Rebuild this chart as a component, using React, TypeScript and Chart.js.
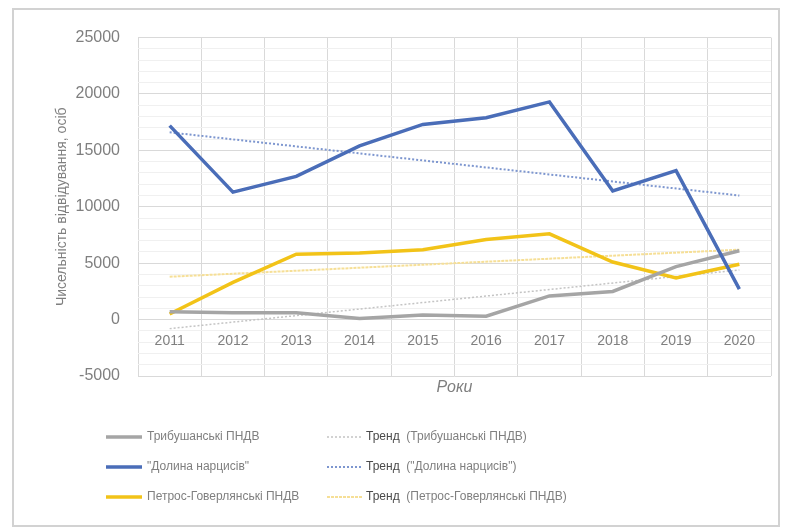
import React, { useEffect, useRef } from "react";
import { Chart, registerables } from "chart.js";

Chart.register(...registerables);

// Categories (years)
const years = ["2011", "2012", "2013", "2014", "2015", "2016", "2017", "2018", "2019", "2020"];

// Visitor counts per park
const trybushany = [700, 600, 600, 100, 400, 300, 2100, 2500, 4700, 6100];
const dolyna = [17200, 11300, 12700, 15400, 17300, 17900, 19300, 11400, 13200, 2700];
const petros = [500, 3300, 5800, 5900, 6200, 7100, 7600, 5100, 3700, 4900];

// Linear trend lines: value at first and last year
const trendTrybushany = [-800, 4400];
const trendDolyna = [16600, 11000];
const trendPetros = [3800, 6200];

// Y axis range and ticks
const yMin = -5000;
const yMax = 25000;
const yMajorStep = 5000;
const yMinorStep = 1000;

const seriesNames = ["Трибушанські ПНДВ", "\"Долина нарцисів\"", "Петрос-Говерлянські ПНДВ"];
const trendWord = "Тренд";
const xTitle = "Роки";
const yTitle = "Чисельність відвідування, осіб";

const FONT = "'Liberation Sans', Arial, sans-serif";
const TEXT = "#7f7f7f";

const trendSeries = (pair: number[]) =>
  years.map((_, i) => (i === 0 ? pair[0] : i === years.length - 1 ? pair[1] : null));

// Two-column legend: main series on the left, their trends on the right
const gridLegend = {
  id: "gridLegend",
  afterDraw(chart: any) {
    const ctx = chart.ctx as CanvasRenderingContext2D;
    const ds = chart.data.datasets;
    const rows = [427, 457, 487];
    ctx.save();
    ctx.font = `12px ${FONT}`;
    ctx.textBaseline = "middle";
    for (let r = 0; r < 3; r++) {
      const y = rows[r];
      // main series
      const m = ds[r];
      ctx.setLineDash([]);
      ctx.strokeStyle = m.borderColor;
      ctx.lineWidth = m.borderWidth;
      ctx.beginPath();
      ctx.moveTo(92, y);
      ctx.lineTo(128, y);
      ctx.stroke();
      ctx.fillStyle = TEXT;
      ctx.textAlign = "left";
      ctx.fillText(m.label, 133, y);
      // trend
      const t = ds[r + 3];
      ctx.setLineDash(t.borderDash || []);
      ctx.strokeStyle = t.borderColor;
      ctx.lineWidth = t.borderWidth;
      ctx.beginPath();
      ctx.moveTo(313, y);
      ctx.lineTo(348, y);
      ctx.stroke();
      ctx.setLineDash([]);
      ctx.fillStyle = "#4a4a4a";
      ctx.fillText(trendWord, 352, y);
      const w = ctx.measureText(trendWord + "  ").width;
      ctx.fillStyle = TEXT;
      ctx.fillText(`(${m.label})`, 352 + w, y);
    }
    ctx.restore();
  },
};

export default function App() {
  const ref = useRef<HTMLCanvasElement>(null);

  useEffect(() => {
    if (!ref.current) return;
    const chart = new Chart(ref.current, {
      type: "line",
      data: {
        labels: years,
        datasets: [
          { label: seriesNames[0], data: trybushany, borderColor: "#a5a5a5", borderWidth: 3.5, xAxisID: "x", yAxisID: "y", order: 1 },
          { label: seriesNames[1], data: dolyna, borderColor: "#4a6db8", borderWidth: 3.5, xAxisID: "x", yAxisID: "y", order: 0 },
          { label: seriesNames[2], data: petros, borderColor: "#f2c318", borderWidth: 3.5, xAxisID: "x", yAxisID: "y", order: 2 },
          { label: `${trendWord} (${seriesNames[0]})`, data: trendSeries(trendTrybushany), borderColor: "#c4c4c4", borderWidth: 1.5, borderDash: [2, 2], spanGaps: true, xAxisID: "x", yAxisID: "y", order: 3 },
          { label: `${trendWord} (${seriesNames[1]})`, data: trendSeries(trendDolyna), borderColor: "#7d96cf", borderWidth: 2, borderDash: [2, 2], spanGaps: true, xAxisID: "x", yAxisID: "y", order: 3 },
          { label: `${trendWord} (${seriesNames[2]})`, data: trendSeries(trendPetros), borderColor: "#f6df96", borderWidth: 2, borderDash: [3, 1], spanGaps: true, xAxisID: "x", yAxisID: "y", order: 3 },
        ] as any,
      },
      options: {
        animation: false,
        responsive: false,
        layout: { padding: { left: 40, right: 7, top: 27, bottom: 120 } },
        elements: { point: { radius: 0 }, line: { tension: 0 } },
        plugins: { legend: { display: false }, tooltip: { enabled: false } },
        scales: {
          x: {
            type: "category",
            position: { y: 0 } as any,
            offset: true,
            grid: { offset: true, color: "#d9d9d9", drawTicks: false },
            border: { display: false },
            ticks: { padding: 13, color: TEXT, font: { family: FONT, size: 14 } },
          },
          x2: {
            type: "category",
            position: "bottom",
            offset: true,
            grid: { display: false },
            border: { display: false },
            ticks: { display: false },
            title: {
              display: true,
              text: xTitle,
              color: TEXT,
              font: { family: FONT, size: 16, style: "italic" },
              padding: { top: 0, bottom: 8 },
            },
            afterFit: (s: any) => {
              s.height = 29;
            },
          },
          y: {
            type: "linear",
            min: yMin,
            max: yMax,
            border: { display: false },
            grid: {
              drawTicks: false,
              color: (c: any) => (c.tick && c.tick.value % yMajorStep === 0 ? "#d9d9d9" : "#f0f0f0"),
            },
            ticks: {
              stepSize: yMinorStep,
              autoSkip: false,
              padding: 18,
              color: TEXT,
              font: { family: FONT, size: 16 },
              callback: (v: any) => (Number(v) % yMajorStep === 0 ? String(v) : ""),
            },
            title: {
              display: true,
              text: yTitle,
              color: TEXT,
              font: { family: FONT, size: 14 },
              padding: { top: 0, bottom: 0 },
            },
            afterFit: (s: any) => {
              s.width = 84;
            },
          },
        } as any,
      },
      plugins: [gridLegend],
    });
    return () => chart.destroy();
  }, []);

  return (
    <div
      style={{
        marginLeft: 4,
        width: 768,
        height: 519,
        border: "2px solid #d2d2d2",
        boxSizing: "border-box",
        background: "#fff",
      }}
    >
      <canvas ref={ref} width={764} height={515} style={{ display: "block" }} />
    </div>
  );
}
